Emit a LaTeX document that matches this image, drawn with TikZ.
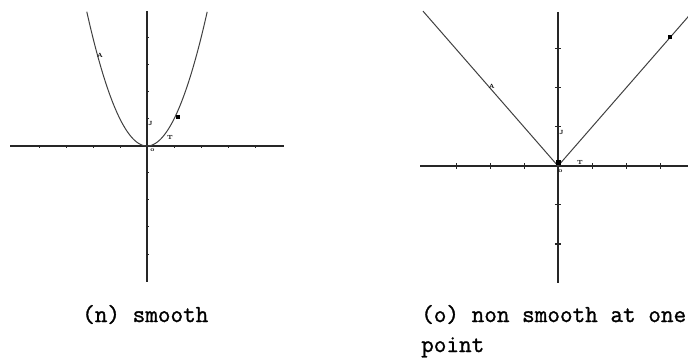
\documentclass[tikz,border=0pt]{standalone}
\usepackage{fontspec}
\setmonofont[FakeBold=1.2]{Latin Modern Mono}
\begin{document}
\begin{tikzpicture}[x=1pt,y=-1pt,
  axis/.style={line width=1.4pt,black!85},
  tickmark/.style={line width=1pt,black!85},
  curve/.style={line width=1pt,black!75},
  ptlabel/.style={inner sep=0pt,font=\fontsize{6}{6}\selectfont\bfseries},
  ptbox/.style={fill=black,inner sep=0pt,minimum size=4pt},
  caption/.style={inner sep=0pt,anchor=base west,font=\fontsize{24.5}{30}\selectfont\ttfamily}]
\useasboundingbox (0,0) rectangle (688,358);
% ---------- left plot: smooth ----------
\begin{scope}[shift={(147,146)},x=27pt,y=27pt]
  \coordinate (LO) at (0,0);
  \draw[axis] (-5.07,0) -- (5.07,0);
  \draw[axis] (0,5.0) -- (0,-5.05);
  \foreach \i in {-4,-3,-2,-1,1,2,3,4}
    \draw[tickmark] (\i,0) -- ++(0,-0.09);
  \foreach \j in {-4,-3,-2,-1,1,2,3,4}
    \draw[tickmark] (0,\j) -- ++(0.09,0);
  \draw[curve] plot[domain=-2.23:2.23,samples=80] (\x,{\x*\x});
  \node[ptlabel] (LA) at (-1.74,3.37) {A};
  \node[ptbox] (LP) at (1.15,1.07) {};
  \node[ptlabel] (LJ) at (0.13,0.83) {J};
  \node[ptlabel] (LT) at (0.85,0.3) {T};
  \node[ptlabel] (LOl) at (0.2,-0.15) {o};
\end{scope}
% ---------- right plot: non smooth ----------
\begin{scope}[shift={(558,166)},x=34pt,y=39pt]
  \coordinate (RO) at (0,0);
  \draw[axis] (-4.05,0) -- (3.9,0);
  \draw[axis] (0,3.95) -- (0,-3.0);
  \foreach \i in {-3,-2,-1,1,2,3}
    \draw[tickmark] (\i,-0.07) -- (\i,0.07);
  \foreach \j in {-2,-1,1,2,3}
    \draw[tickmark] (-0.09,\j) -- (0.09,\j);
  \draw[curve] (-3.97,3.97) -- (RO) -- (4,4);
  \node[ptbox,minimum size=5pt] (RP0) at (0,0.08) {};
  \node[ptlabel] (RA) at (-1.95,2.05) {A};
  \node[ptbox] (RP) at (3.3,3.3) {};
  \node[ptlabel] (RJ) at (0.1,0.85) {J};
  \node[ptlabel] (RT) at (0.65,0.1) {T};
  \node[ptlabel] (ROl) at (0.07,-0.12) {o};
\end{scope}
% ---------- captions ----------
\node[caption] (capn) at (82,322) {(n) smooth};
\node[caption] (capo) at (421,322) {(o) non smooth at one};
\node[caption] (capo2) at (421,352) {point};
\end{tikzpicture}
\end{document}
